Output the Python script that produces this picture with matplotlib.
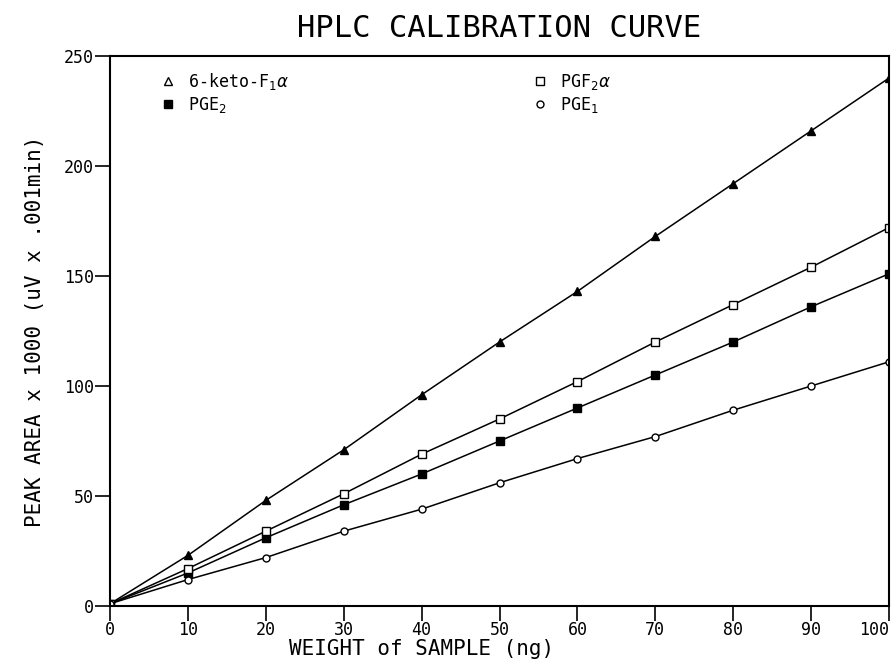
import numpy as np
from matplotlib import pyplot as plt

# weight of sample (ng)
weight = [0, 10, 20, 30, 40, 50, 60, 70, 80, 90, 100]

# peak area x 1000 for each prostaglandin
keto_f1a = [1, 23, 48, 71, 96, 120, 143, 168, 192, 216, 240]
pgf2a = [1, 17, 34, 51, 69, 85, 102, 120, 137, 154, 172]
pge2 = [1, 15, 31, 46, 60, 75, 90, 105, 120, 136, 151]
pge1 = [1, 12, 22, 34, 44, 56, 67, 77, 89, 100, 111]

x_ticks = [0, 10, 20, 30, 40, 50, 60, 70, 80, 90, 100]
y_ticks = [0, 50, 100, 150, 200, 250]

plt.rcParams['font.family'] = 'DejaVu Sans Mono'

fig = plt.figure(figsize=(8.96, 6.67), dpi=100)
ax = fig.add_axes([0.1228, 0.0915, 0.8694, 0.8245])

ax.plot(weight, keto_f1a, color='black', lw=1.1, marker='^', ms=5.5,
        mfc='black', mec='black', label=r'6-keto-F$_1\alpha$')
ax.plot(weight, pge2, color='black', lw=1.1, marker='s', ms=5.5,
        mfc='black', mec='black', label=r'PGE$_2$')
ax.plot(weight, pgf2a, color='black', lw=1.1, marker='s', ms=5.5,
        mfc='white', mec='black', label=r'PGF$_2\alpha$')
ax.plot(weight, pge1, color='black', lw=1.1, marker='o', ms=5,
        mfc='white', mec='black', label=r'PGE$_1$')

ax.set_xlim(0, 100)
ax.set_ylim(0, 250)
ax.set_xticks(x_ticks)
ax.set_yticks(y_ticks)
ax.tick_params(direction='out', length=10.5, width=1.2, labelsize=12)
ax.tick_params(axis='x', pad=0)
ax.tick_params(axis='y', pad=1)
for s in ax.spines.values():
    s.set_linewidth(1.5)
# last label sits against the right edge, as on the original plot
ax.get_xticklabels()[-1].set_horizontalalignment('right')

ax.set_title('HPLC CALIBRATION CURVE', fontsize=22, pad=14, x=0.5)
ax.set_xlabel('WEIGHT of SAMPLE (ng)', fontsize=15, labelpad=0, x=0.4)
ax.set_ylabel('PEAK AREA x 1000 (uV x .001min)', fontsize=15, labelpad=14)

leg = ax.legend(loc='upper left', ncol=2, frameon=False, fontsize=12,
                handlelength=0.8, columnspacing=14.7, labelspacing=0.15,
                bbox_to_anchor=(0.046, 1.0))
for h in leg.legend_handles:
    h.set_linestyle('none')
leg.legend_handles[0].set_markerfacecolor('white')

plt.savefig('out.png', dpi=100)
